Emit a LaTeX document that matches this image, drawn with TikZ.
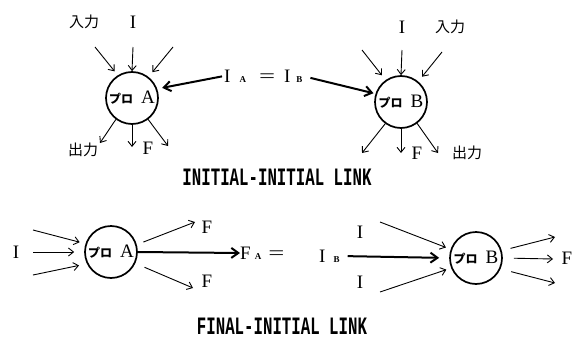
\documentclass[tikz,border=0pt]{standalone}
\usepackage{fontspec}
\usepackage{graphicx}
\setmainfont{Liberation Serif}
\newfontfamily\jpfont{Noto Sans CJK JP}
\newfontfamily\capfont{Liberation Mono}
\usetikzlibrary{arrows.meta}
\newcommand\subl[1]{{\fontsize{9}{9}\selectfont\bfseries #1}}
\newcommand\proctext[1]{{\jpfont\fontsize{12}{12}\selectfont\bfseries プロ}\hspace{8pt}#1}
\tikzset{
  proc/.style={circle, draw, line width=1.7pt, minimum size=52pt, inner sep=0pt, font=\fontsize{19}{19}\selectfont},
  lnk/.style={line width=0.9pt, -{Straight Barb[length=5pt,width=8pt]}},
  thk/.style={line width=2pt, -{Straight Barb[length=7pt,width=10pt]}},
  lbl/.style={font=\fontsize{19}{19}\selectfont, inner sep=0pt},
  jlbl/.style={font=\jpfont\fontsize{15}{15}\selectfont, inner sep=0pt},
  caption/.style={font=\capfont\bfseries\fontsize{25}{25}\selectfont, inner sep=0pt},
}
\begin{document}
\begin{tikzpicture}[x=1pt,y=-1pt]
\useasboundingbox (0,0) rectangle (575,340);

% ---------- INITIAL-INITIAL LINK ----------
\node[proc] (cA) at (132,98) {\proctext{A}};
\node[jlbl] (inA) at (84,22) {入力};
\node[lbl] (IA) at (133,22) {I};
\coordinate (a1) at (95,47);
\coordinate (a2) at (133,47);
\coordinate (a3) at (173,47);
\draw[lnk, shorten >=5pt] (a1) -- (cA.122);
\draw[lnk] (a2) -- (cA.90);
\draw[lnk, shorten >=6pt] (a3) -- (cA.52);
\coordinate (a4) at (100,143);
\coordinate (a5) at (132,147);
\coordinate (a6) at (168,146);
\draw[lnk] (cA.233) -- (a4);
\draw[lnk] (cA.270) -- (a5);
\draw[lnk] (cA.307) -- (a6);
\node[jlbl] (outA) at (83,150) {出力};
\node[lbl] (FA1) at (148,148) {F};

\node[proc] (cB) at (401,102) {\proctext{B}};
\node[lbl] (IB1) at (402,27) {I};
\node[jlbl] (inB) at (450,27) {入力};
\coordinate (b1) at (362,50);
\coordinate (b2) at (402,50);
\coordinate (b3) at (442,52);
\draw[lnk, shorten >=6pt] (b1) -- (cB.125);
\draw[lnk] (b2) -- (cB.90);
\draw[lnk, shorten >=6pt] (b3) -- (cB.50);
\coordinate (b4) at (362,153);
\coordinate (b5) at (401,153);
\coordinate (b6) at (438,153);
\draw[lnk] (cB.234) -- (b4);
\draw[lnk] (cB.270) -- (b5);
\draw[lnk] (cB.307) -- (b6);
\node[lbl] (FB1) at (417,153) {F};
\node[jlbl] (outB) at (467,153) {出力};

\node[lbl, anchor=west] (eqAB) at (224,76) {I\hspace{9pt}\subl{A}\hspace{13pt}\scalebox{1.5}[1]{=}\hspace{9pt}I\hspace{6pt}\subl{B}};
\draw[thk, shorten <=2pt, shorten >=5pt] (eqAB.west) -- (cA.20);
\draw[thk, shorten <=8pt, shorten >=2pt] (eqAB.east) -- (cB.162);

\node[caption] (cap1) at (277,177) {\scalebox{0.63}[1]{INITIAL-INITIAL LINK}};

% ---------- FINAL-INITIAL LINK ----------
\node[proc] (cA2) at (111,252) {\proctext{A}};
\node[lbl] (IL) at (16,252) {I};
\coordinate (c1) at (33,230);
\coordinate (c2) at (33,252);
\coordinate (c3) at (33,275);
\draw[lnk, shorten >=6pt] (c1) -- (cA2.162);
\draw[lnk, shorten >=10pt] (c2) -- (cA2.180);
\draw[lnk, shorten >=8pt] (c3) -- (cA2.206);
\coordinate (c4) at (195,222);
\coordinate (c6) at (193,288);
\draw[lnk, shorten <=7pt] (cA2.16) -- (c4);
\draw[lnk, shorten <=10pt] (cA2.335) -- (c6);
\node[lbl] (Fu) at (207,227) {F};
\node[lbl] (Fd) at (207,281) {F};
\node[lbl, anchor=west] (FAe) at (240,253) {F\hspace{4pt}\subl{A}\hspace{7pt}\scalebox{1.5}[1]{=}};
\draw[thk] (cA2.east) -- (FAe.west);

\node[proc] (cB2) at (476,258) {\proctext{B}};
\node[lbl, anchor=west] (IB) at (319,256) {I\hspace{8pt}\subl{B}};
\node[lbl] (Iu) at (360,232) {I};
\node[lbl] (Id) at (360,282) {I};
\coordinate (d1) at (380,222);
\coordinate (d3) at (380,292);
\draw[lnk, shorten >=5pt] (d1) -- (cB2.161);
\draw[lnk, shorten >=5pt] (d3) -- (cB2.202);
\draw[thk, shorten <=8pt, shorten >=10pt] (IB.east) -- (cB2.180);
\coordinate (d4) at (555,237);
\coordinate (d5) at (553,259);
\coordinate (d6) at (555,283);
\draw[lnk, shorten <=9pt] (cB2.16) -- (d4);
\draw[lnk, shorten <=11pt] (cB2.0) -- (d5);
\draw[lnk, shorten <=11pt] (cB2.336) -- (d6);
\node[lbl] (FR) at (567,258) {F};

\node[caption] (cap2) at (282,326) {\scalebox{0.63}[1]{FINAL-INITIAL LINK}};
\end{tikzpicture}
\end{document}
